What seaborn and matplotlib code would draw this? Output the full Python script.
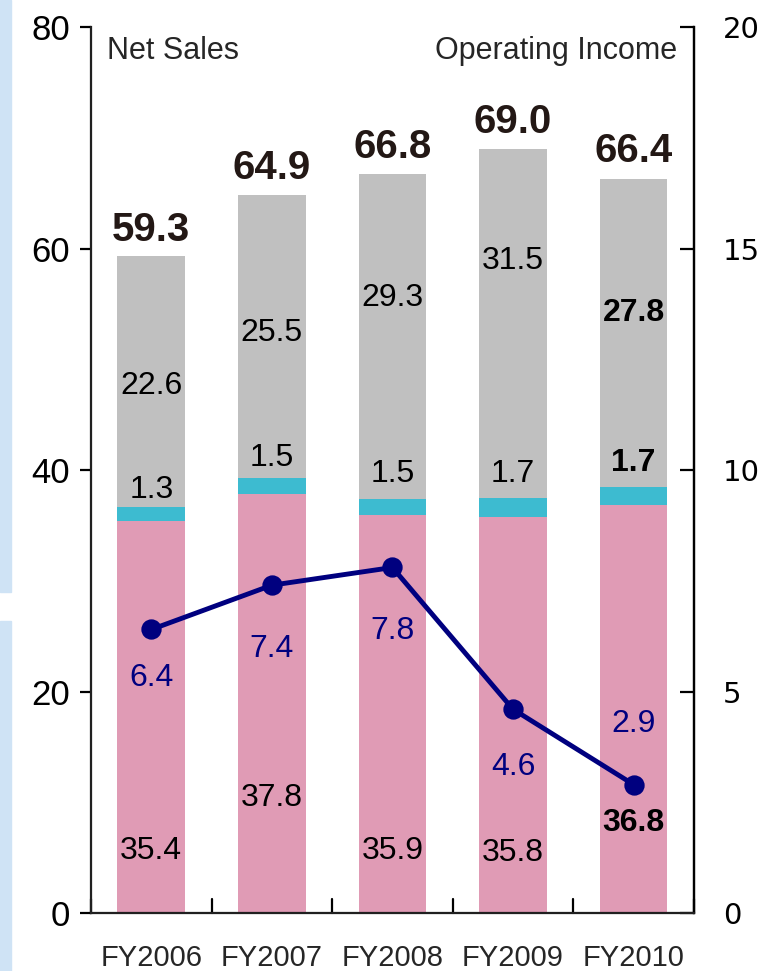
import matplotlib
matplotlib.use("Agg")
import matplotlib.pyplot as plt
import seaborn as sns
import pandas as pd

years = ["FY2006", "FY2007", "FY2008", "FY2009", "FY2010"]
seg_pink = [35.4, 37.8, 35.9, 35.8, 36.8]
seg_cyan = [1.3, 1.5, 1.5, 1.7, 1.7]
seg_gray = [22.6, 25.5, 29.3, 31.5, 27.8]
totals = [59.3, 64.9, 66.8, 69.0, 66.4]
op_income = [6.4, 7.4, 7.8, 4.6, 2.9]

# where the numbers sit (left-axis units)
pink_lab_y = [5.6, 10.4, 5.6, 5.4, 8.1]
cyan_lab_y = [38.2, 41.1, 39.6, 39.6, 40.6]
gray_lab_y = [47.6, 52.4, 55.5, 58.9, 54.2]
inc_lab_y = [21.2, 23.8, 25.5, 13.2, 17.1]
bold_last = True

PINK = "#E09BB5"
CYAN = "#3DBBD0"
GRAY = "#C0C0C0"
NAVY = "#00007F"

sns.set_theme(style="white")
plt.rcParams["font.family"] = ["Liberation Sans", "DejaVu Sans"]

fig = plt.figure(figsize=(7.6, 9.71), dpi=100)
ax = fig.add_axes([0.1197, 0.0597, 0.7933, 0.9125])

df = pd.DataFrame({"year": years, "pink": seg_pink, "cyan": seg_cyan, "gray": seg_gray})
bottom2 = [a + b for a, b in zip(seg_pink, seg_cyan)]
sns.barplot(data=df, x="year", y="pink", color=PINK, width=0.56, saturation=1, linewidth=0, ax=ax)
sns.barplot(data=df, x="year", y="cyan", bottom=seg_pink, color=CYAN, width=0.56, saturation=1, linewidth=0, ax=ax)
sns.barplot(data=df, x="year", y="gray", bottom=bottom2, color=GRAY, width=0.56, saturation=1, linewidth=0, ax=ax)

ax.set_xlim(-0.5, 4.5)
ax.set_ylim(0, 80)
ax.set_yticks([0, 20, 40, 60, 80])
ax.set_xlabel("")
ax.set_ylabel("")
for s in ax.spines.values():
    s.set_color("black")
    s.set_linewidth(1.6)
ax.spines["top"].set_visible(False)
ax.tick_params(axis="y", direction="out", length=8, width=1.6, labelsize=25, pad=7, left=True, colors="black")
ax.set_xticks(range(5))
ax.set_xticklabels(years, fontsize=21)
ax.tick_params(axis="x", length=0, pad=22)
for b in [-0.5, 0.5, 1.5, 2.5, 3.5, 4.5]:
    ax.plot([b, b], [0, 1.3], color="black", lw=1.6, clip_on=False)

ax2 = ax.twinx()
sns.pointplot(x=years, y=op_income, color=NAVY, markers="o", markersize=12,
              linewidth=3.5, ax=ax2, zorder=5)
ax2.set_ylim(0, 20)
ax2.set_xlim(-0.5, 4.5)
ax2.set_yticks([0, 5, 10, 15, 20])
ax2.tick_params(axis="y", direction="in", length=10, width=1.6, labelsize=21, pad=21, right=True, colors="black")
for lab in ax2.get_yticklabels():
    lab.set_fontfamily(["DejaVu Sans"])
ax2.spines["top"].set_visible(False)
ax2.spines["right"].set_linewidth(1.6)
ax2.spines["right"].set_color("black")
ax2.set_ylabel("")

for i in range(5):
    w = "bold" if (bold_last and i == 4) else "normal"
    ax.text(i, pink_lab_y[i], f"{seg_pink[i]:.1f}", ha="center", va="center", fontsize=23, weight=w, color="black", zorder=10)
    ax.text(i, cyan_lab_y[i], f"{seg_cyan[i]:.1f}", ha="center", va="center", fontsize=23, weight=w, color="black", zorder=10)
    ax.text(i, gray_lab_y[i], f"{seg_gray[i]:.1f}", ha="center", va="center", fontsize=23, weight=w, color="black", zorder=10)
    ax.text(i, totals[i] + 2.4, f"{totals[i]:.1f}", ha="center", va="center", fontsize=29, weight="bold", color="#231815", zorder=10)
    ax.text(i, inc_lab_y[i], f"{op_income[i]:.1f}", ha="center", va="center", fontsize=23, color=NAVY, zorder=10)

ax.text(0.027, 0.99, "Net Sales", transform=ax.transAxes, ha="left", va="top", fontsize=22)
ax.text(0.973, 0.99, "Operating Income", transform=ax.transAxes, ha="right", va="top", fontsize=22)

# pale dotted strip at the far left edge of the page
fig.patches.append(plt.Rectangle((0, 0.39), 0.014, 0.61, transform=fig.transFigure, color="#CFE3F5", zorder=0))
fig.patches.append(plt.Rectangle((0, 0.0), 0.014, 0.36, transform=fig.transFigure, color="#CFE3F5", zorder=0))

fig.savefig("out.png", dpi=100)
